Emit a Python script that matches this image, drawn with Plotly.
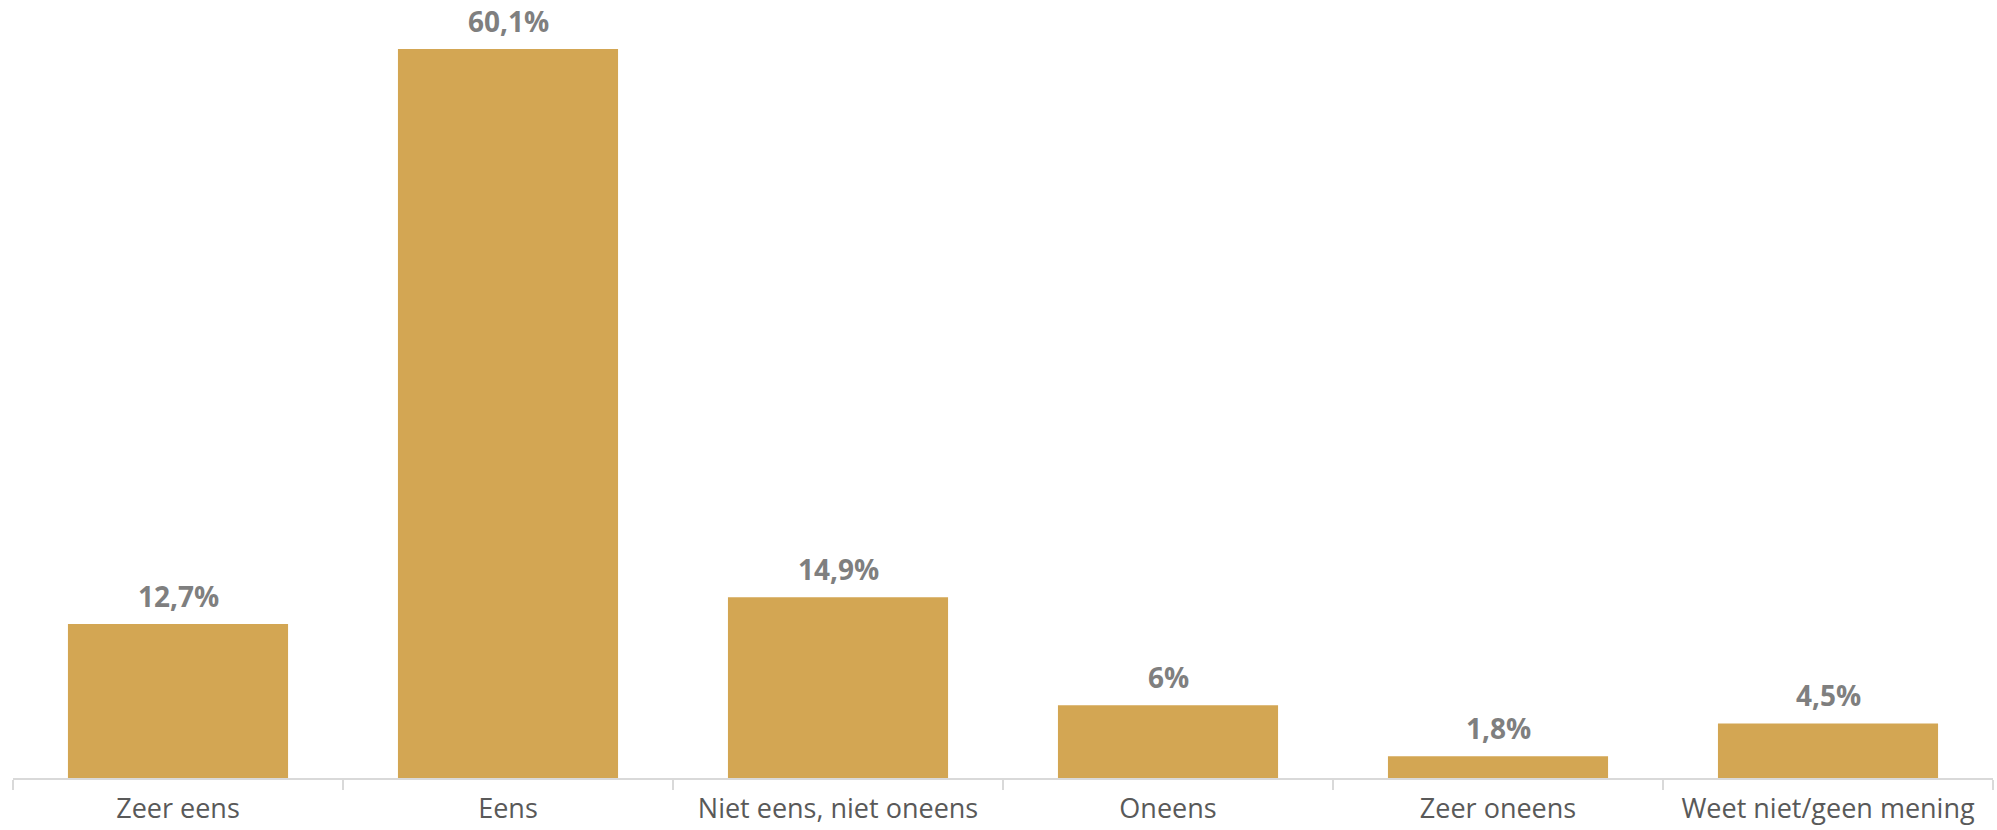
import plotly.graph_objects as go

categories = ["Zeer eens", "Eens", "Niet eens, niet oneens", "Oneens", "Zeer oneens", "Weet niet/geen mening"]
values = [12.7, 60.1, 14.9, 6.0, 1.8, 4.5]
labels = ["12,7%", "60,1%", "14,9%", "6%", "1,8%", "4,5%"]

fig = go.Figure(go.Bar(
    x=categories, y=values,
    marker=dict(color="#D3A653", line=dict(width=0)),
    cliponaxis=False, hoverinfo="x+y",
))
for c, v, t in zip(categories, values, labels):
    fig.add_annotation(x=c, y=v, text="<b>%s</b>" % t, showarrow=False,
                       yanchor="bottom", yshift=8, borderpad=0,
                       font=dict(family="Open Sans", size=28, color="#7F7F7F"))
fig.update_layout(
    width=1997, height=830,
    margin=dict(l=13, r=4, t=0, b=52),
    paper_bgcolor="white", plot_bgcolor="white",
    bargap=0.333, showlegend=False,
    xaxis=dict(showline=True, linecolor="#D9D9D9", linewidth=2, ticks="outside",
               tickson="boundaries", ticklen=10, tickcolor="#D9D9D9", tickwidth=2,
               automargin=False, ticklabelstandoff=6,
               tickfont=dict(family="Open Sans", size=27, color="#595959")),
    yaxis=dict(range=[0, 64.14], visible=False, showgrid=False, automargin=False),
)
fig.write_html("out.html", config={"displayModeBar": False},
               post_script="document.body.style.margin='0';")
